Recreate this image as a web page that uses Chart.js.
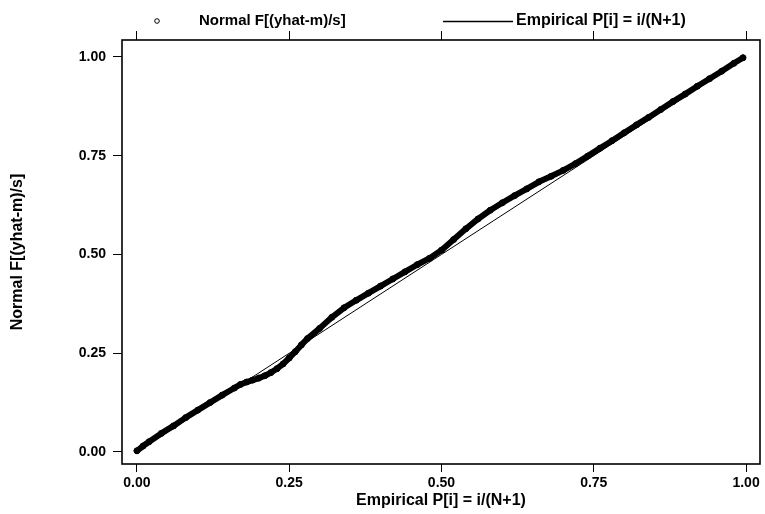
<!DOCTYPE html>
<html>
<head>
<meta charset="utf-8">
<script src="https://cdn.jsdelivr.net/npm/chart.js@4.4.1/dist/chart.umd.min.js"></script>
<style>
  html, body { margin: 0; padding: 0; background: #ffffff; }
  #wrap { width: 765px; height: 514px; }
</style>
</head>
<body>
<div id="wrap"><canvas id="c" width="765" height="514"></canvas></div>
<script>
// Empirical P[i] = i/(N+1)  (x) and Normal F[(yhat-m)/s]  (y)
const empiricalP = [0.000, 0.010, 0.020, 0.040, 0.060, 0.080, 0.100, 0.120, 0.140, 0.160,
  0.170, 0.180, 0.190, 0.200, 0.210, 0.220, 0.230, 0.240, 0.250, 0.260,
  0.270, 0.280, 0.300, 0.320, 0.340, 0.360, 0.380, 0.400, 0.420, 0.440,
  0.460, 0.480, 0.500, 0.520, 0.540, 0.560, 0.580, 0.600, 0.620, 0.640,
  0.660, 0.680, 0.700, 0.720, 0.740, 0.760, 0.780, 0.800, 0.820, 0.840,
  0.860, 0.880, 0.900, 0.920, 0.940, 0.960, 0.980, 0.995];
const normalF = [0.003, 0.015, 0.026, 0.047, 0.066, 0.087, 0.106, 0.125, 0.144, 0.162,
  0.171, 0.177, 0.182, 0.187, 0.193, 0.201, 0.211, 0.223, 0.238, 0.254,
  0.271, 0.287, 0.313, 0.341, 0.365, 0.384, 0.402, 0.420, 0.438, 0.456,
  0.474, 0.490, 0.511, 0.538, 0.565, 0.590, 0.612, 0.631, 0.649, 0.666,
  0.684, 0.698, 0.713, 0.730, 0.749, 0.769, 0.788, 0.808, 0.828, 0.847,
  0.867, 0.887, 0.906, 0.926, 0.945, 0.964, 0.984, 0.998];
// reference diagonal
const diagX = [0, 1];
const diagY = [0, 1];
// tick labels
const tickValues = [0, 0.25, 0.5, 0.75, 1];
const seriesNames = ['Normal F[(yhat-m)/s]', 'Empirical P[i] = i/(N+1)'];
const xTitle = 'Empirical P[i] = i/(N+1)';
const yTitle = 'Normal F[(yhat-m)/s]';

const FONT = '"Liberation Sans", Arial, sans-serif';

const ppPoints = empiricalP.map((x, i) => ({ x: x, y: normalF[i] }));
const diagPoints = diagX.map((x, i) => ({ x: x, y: diagY[i] }));

const setTicks = (scale) => { scale.ticks = tickValues.map(v => ({ value: v })); };

const framePlugin = {
  id: 'frameAndLegend',
  afterDraw(chart) {
    const ctx = chart.ctx;
    const a = chart.chartArea;
    ctx.save();
    ctx.strokeStyle = '#000';
    ctx.lineWidth = 1.6;
    ctx.strokeRect(a.left, a.top, a.right - a.left, a.bottom - a.top);
    // legend
    ctx.font = 'bold 15px ' + FONT;
    ctx.fillStyle = '#000';
    ctx.textBaseline = 'middle';
    ctx.textAlign = 'left';
    const ly = 21;
    ctx.lineWidth = 1;
    ctx.beginPath();
    ctx.arc(157, ly, 2.3, 0, Math.PI * 2);
    ctx.stroke();
    ctx.fillText(seriesNames[0], 199, ly);
    ctx.lineWidth = 1.5;
    ctx.beginPath();
    ctx.moveTo(443, ly + 0.5);
    ctx.lineTo(513, ly + 0.5);
    ctx.stroke();
    ctx.font = 'bold 16px ' + FONT;
    ctx.fillText(seriesNames[1], 516, ly);
    ctx.restore();
  }
};

new Chart(document.getElementById('c'), {
  type: 'scatter',
  data: {
    datasets: [
      {
        label: seriesNames[0],
        data: ppPoints,
        showLine: true,
        borderColor: '#000',
        borderWidth: 6,
        borderCapStyle: 'round',
        borderJoinStyle: 'round',
        pointRadius: 3,
        pointBackgroundColor: '#000',
        pointBorderColor: '#000',
        pointBorderWidth: 1,
        order: 2
      },
      {
        label: seriesNames[1],
        data: diagPoints,
        showLine: true,
        borderColor: '#000',
        borderWidth: 1,
        pointRadius: 0,
        order: 1
      }
    ]
  },
  options: {
    responsive: false,
    animation: false,
    devicePixelRatio: 1,
    layout: { padding: { left: 0, right: 3, top: 0, bottom: 0 } },
    plugins: {
      legend: { display: false },
      tooltip: { enabled: false }
    },
    scales: {
      x: {
        type: 'linear',
        position: 'bottom',
        min: -0.0245,
        max: 1.0229,
        afterBuildTicks: setTicks,
        afterFit: (s) => { s.height = 50; },
        grid: { drawOnChartArea: false, drawTicks: true, tickLength: 8, color: '#000', lineWidth: 1 },
        border: { display: false },
        ticks: {
          color: '#000',
          padding: 3,
          maxRotation: 0,
          font: { family: FONT, size: 14, weight: 'bold' },
          callback: (v) => Number(v).toFixed(2)
        },
        title: {
          display: true,
          text: xTitle,
          color: '#000',
          font: { family: FONT, size: 16, weight: 'bold' },
          padding: { top: 0, bottom: 4 }
        }
      },
      x2: {
        type: 'linear',
        position: 'top',
        min: -0.0245,
        max: 1.0229,
        afterBuildTicks: setTicks,
        afterFit: (s) => { s.height = 40; },
        grid: { drawOnChartArea: false, drawTicks: true, tickLength: 9, color: '#000', lineWidth: 1 },
        border: { display: false },
        ticks: { display: false }
      },
      y: {
        type: 'linear',
        position: 'left',
        min: -0.0304,
        max: 1.043,
        afterBuildTicks: setTicks,
        afterFit: (s) => { s.width = 122; },
        grid: { drawOnChartArea: false, drawTicks: true, tickLength: 9, color: '#000', lineWidth: 1 },
        border: { display: false },
        ticks: {
          color: '#000',
          padding: 7,
          font: { family: FONT, size: 14, weight: 'bold' },
          callback: (v) => Number(v).toFixed(2)
        },
        title: {
          display: true,
          text: yTitle,
          color: '#000',
          font: { family: FONT, size: 16, weight: 'bold' },
          padding: { top: 8, bottom: 0 }
        }
      }
    }
  },
  plugins: [framePlugin]
});
</script>
</body>
</html>
